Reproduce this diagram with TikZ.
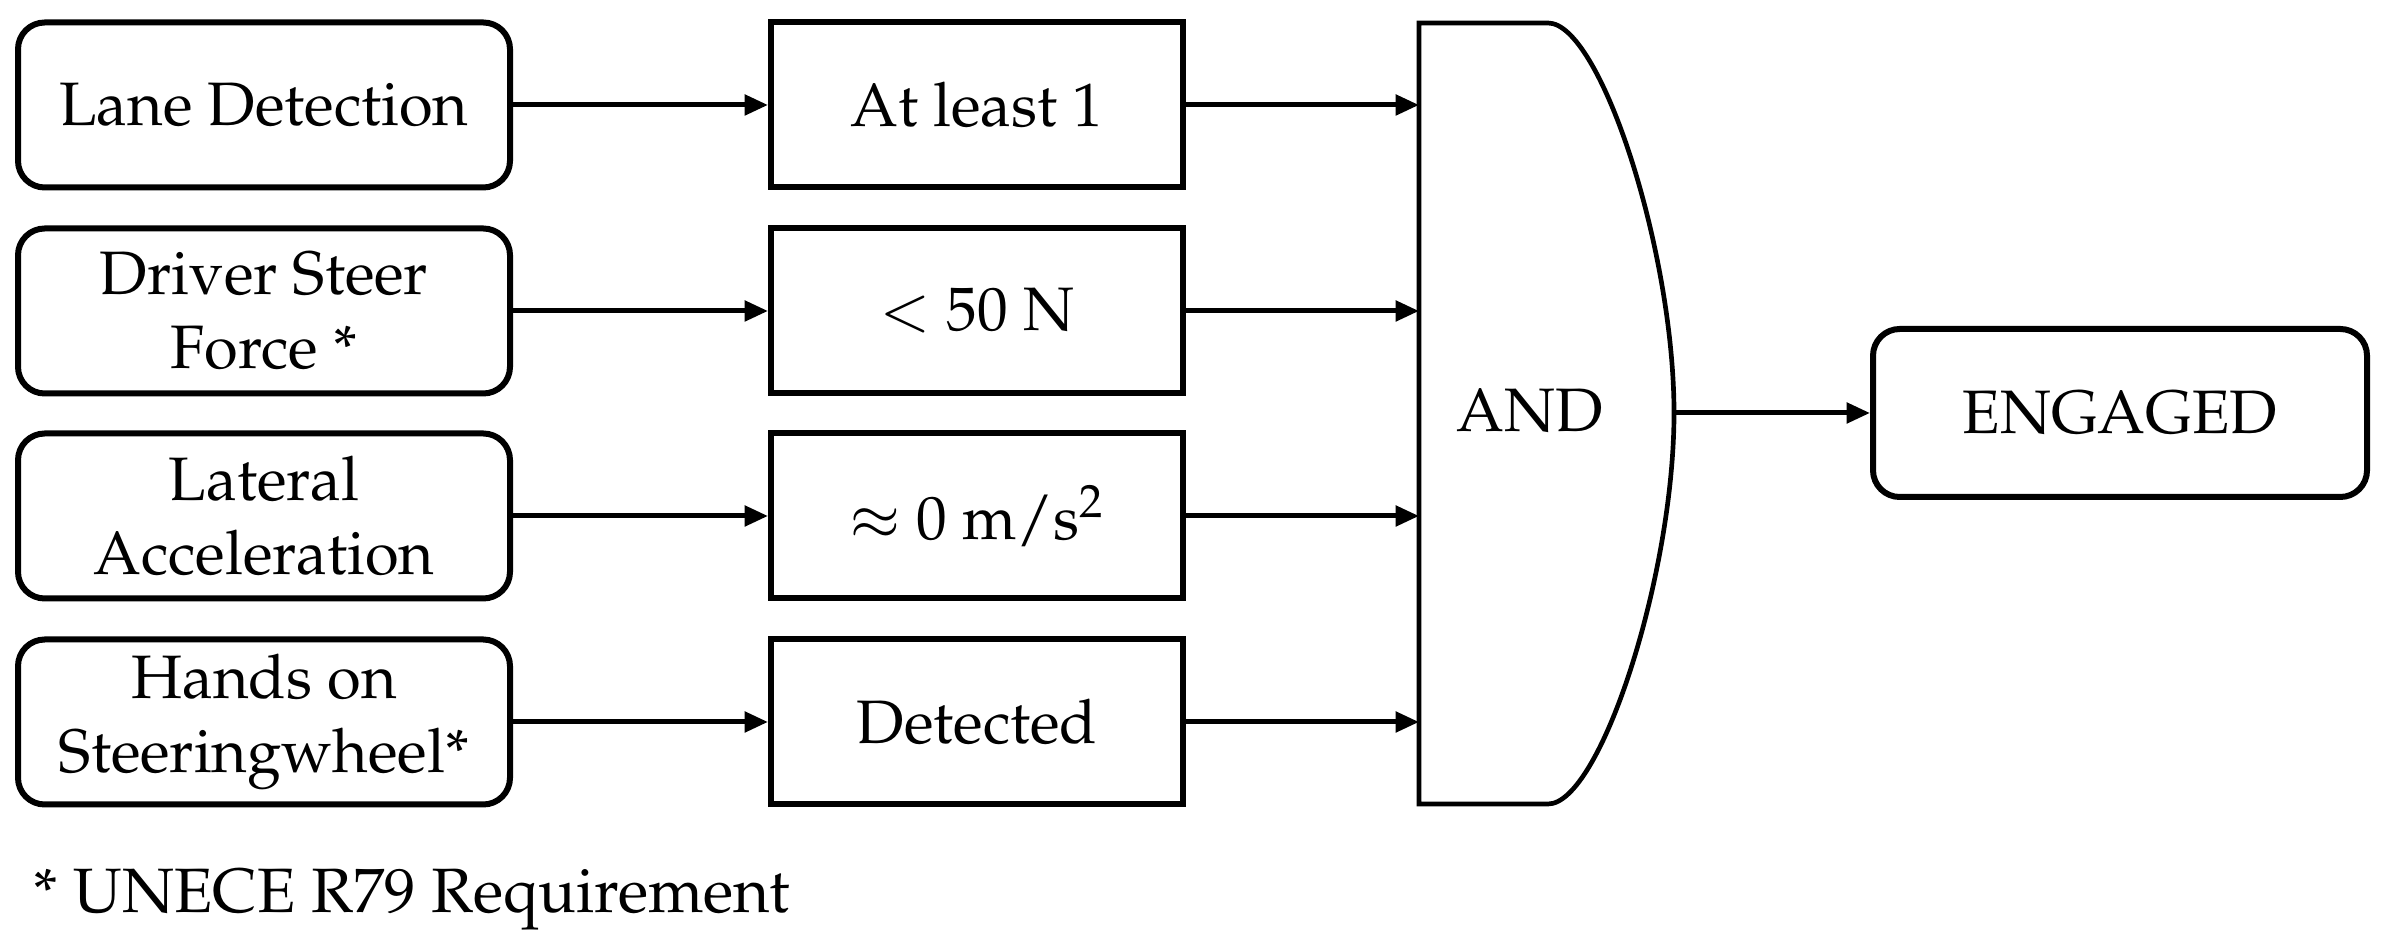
\documentclass[tikz,border=0pt]{standalone}
\usepackage[T1]{fontenc}
\usepackage{mathpazo}
\usetikzlibrary{arrows.meta}
\begin{document}
\begin{tikzpicture}[x=0.3pt,y=-0.3pt,
  txt/.style={font=\fontsize{18.4}{22.4}\selectfont},
  box/.style={txt,draw,line width=1.8pt,minimum height=49.5pt,inner sep=0pt,align=center},
  inbox/.style={box,rounded corners=8pt,minimum width=147.6pt},
  condbox/.style={box,minimum width=123.6pt},
  conn/.style={line width=1.5pt,-{Triangle[length=7pt,width=6pt]}}]
\useasboundingbox (0,0) rectangle (2386,944);
% inputs
\node[inbox] (i1) at (264,105) {Lane Detection};
\node[inbox] (i2) at (264,311) {Driver Steer\\Force *};
\node[inbox] (i3) at (264,516) {Lateral\\Acceleration};
\node[inbox] (i4) at (264,722) {Hands on\\Steeringwheel*};
% conditions
\node[condbox] (c1) at (977,105) {At least 1};
\node[condbox] (c2) at (977,311) {$<$ 50 N};
\node[condbox] (c3) at (977,516) {$\approx$ 0 m/s\textsuperscript{2}};
\node[condbox] (c4) at (977,722) {Detected};
% AND gate
\draw[line width=1.4pt] (1419,23) -- (1548,23)
  .. controls (1600,23) and (1674,250) .. (1674,413)
  .. controls (1674,576) and (1600,804) .. (1548,804)
  -- (1419,804) -- cycle;
\node[txt] (gate) at (1530,411) {AND};
\coordinate (gl) at (1419,413);
\coordinate (gout) at (1674,413);
% output
\node[inbox,minimum width=148.2pt,minimum height=50.4pt] (eng) at (2120,413) {ENGAGED};
% connectors
\foreach \k in {1,2,3,4}{
  \draw[conn] (i\k.east) -- (c\k.west);
  \draw[conn] (c\k.east) -- (c\k.east -| gl);
}
\draw[conn] (gout) -- (eng.west);
% footnote
\node[txt,anchor=west,inner sep=0pt,font=\fontsize{18.8}{22}\selectfont] (note) at (33,900) {* UNECE R79 Requirement};
\end{tikzpicture}
\end{document}
